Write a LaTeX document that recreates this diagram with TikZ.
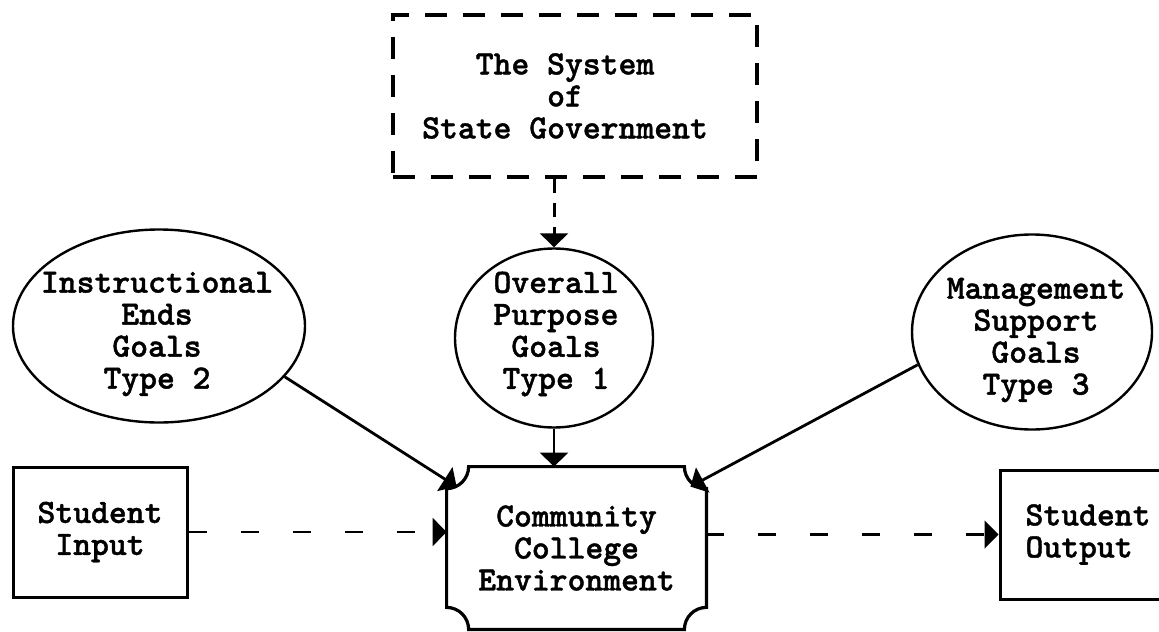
\documentclass[tikz,border=0pt]{standalone}
\usepackage{fontspec}
\newfontfamily\tw{lmmonolt10-bold.otf}[FakeBold=1.2]
\usetikzlibrary{arrows.meta,shapes.geometric}
\begin{document}
\begin{tikzpicture}[x=0.5pt,y=-0.5pt,
  every node/.style={font=\tw\fontsize{17}{16}\selectfont, align=center, inner sep=0pt},
  goal/.style={ellipse, draw, line width=1.2pt},
  boxnode/.style={rectangle, draw, line width=1.5pt},
  tip/.style={-{Triangle[width=14pt,length=7pt]}},
  conn/.style={line width=1.4pt, tip},
  dconn/.style={line width=1.1pt, dash pattern=on 9pt off 17pt, tip},
]
\useasboundingbox (0,0) rectangle (1159,631);
\clip (0,0) rectangle (1159,631);

% top dashed box
\node[boxnode, line width=1.8pt, dash pattern=on 11pt off 8pt,
      minimum width=182pt, minimum height=81pt] (gov) at (575,96) {};
\node (govt) at (565,96) {The System\\of\\State Government};

% goal ellipses
\node[goal, minimum width=146pt, minimum height=96.5pt] (g2) at (159,326) {};
\node (g2t) at (157,334) {Instructional\\Ends\\Goals\\Type 2};

\node[goal, minimum width=99pt, minimum height=89.5pt] (g1) at (554,338) {};
\node (g1t) at (556,334) {Overall\\Purpose\\Goals\\Type 1};

\node[goal, minimum width=120pt, minimum height=97.5pt] (g3) at (1032,332) {};
\node (g3t) at (1036,340) {Management\\Support\\Goals\\Type 3};

% community college box with concave corners
\node[minimum width=129.5pt, minimum height=81pt] (cc) at (576.5,548) {Community\\College\\Environment};
\draw[line width=1.6pt]
  ([xshift=11pt]cc.north west) -- ([xshift=-11pt]cc.north east)
  arc[start angle=180, end angle=270, radius=11pt]
  -- ([yshift=11pt]cc.south east)
  arc[start angle=90, end angle=180, radius=11pt]
  -- ([xshift=11pt]cc.south west)
  arc[start angle=0, end angle=90, radius=11pt]
  -- ([yshift=-11pt]cc.north west)
  arc[start angle=270, end angle=360, radius=11pt]
  -- cycle;

% student boxes
\node[boxnode, minimum width=87pt, minimum height=65pt] (si) at (100,532) {Student\\Input};
\node[boxnode, minimum width=88pt, minimum height=64.5pt, align=left] (so) at (1088,534.5) {Student\\Output};

% connectors
\draw[tip, line width=1.5pt, dash pattern=on 7pt off 5pt] (g1.north |- gov.south) -- (g1.north);
\draw[conn] (g1.south) -- (g1.south |- cc.north);
\draw[conn] (g2.-22) -- ([xshift=5pt,yshift=-10pt]cc.north west);
\draw[conn] (g3.196) -- ([xshift=-8pt,yshift=-10pt]cc.north east);
\draw[dconn] (si.east) -- (si.east -| cc.west);
\draw[dconn] (cc.east |- so.west) -- (so.west);
\end{tikzpicture}
\end{document}
